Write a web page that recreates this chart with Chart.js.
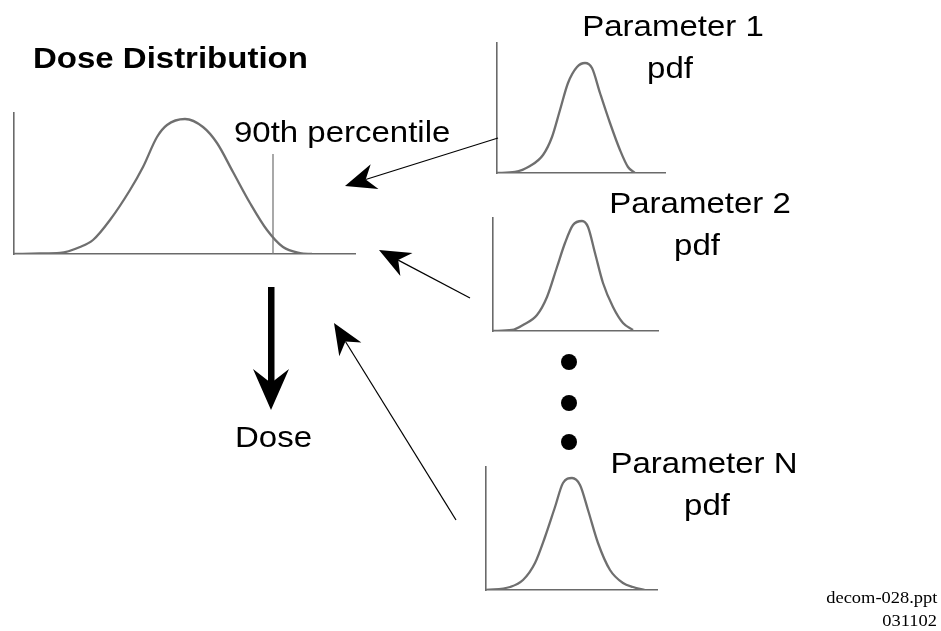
<!DOCTYPE html>
<html>
<head>
<meta charset="utf-8">
<script src="https://cdn.jsdelivr.net/npm/chart.js@4.4.1/dist/chart.umd.min.js"></script>
<style>
  html, body { margin: 0; padding: 0; background: #fff; }
  #stage { position: relative; width: 941px; height: 631px; overflow: hidden; }
  canvas.panel { position: absolute; }
  .t { position: absolute; font-family: "Liberation Sans", Arial, sans-serif; font-size: 29.5px;
       line-height: 1; color: #000; white-space: nowrap; transform-origin: left; transform: scaleX(1.118); }
  .c { transform-origin: center; transform: translateX(-50%) scaleX(1.118); }
  .b { font-weight: bold; }
  .serif { font-family: "Liberation Serif", "Times New Roman", serif; font-size: 16.5px;
           right: 4px; transform-origin: right; }
  svg { position: absolute; left: 0; top: 0; }
</style>
</head>
<body>
<div id="stage">
  <canvas id="dose" class="panel"></canvas>
  <canvas id="p1" class="panel"></canvas>
  <canvas id="p2" class="panel"></canvas>
  <canvas id="pN" class="panel"></canvas>
  <svg id="overlay" width="941" height="631"></svg>

  <div class="t b" style="left:33px; top:43px;">Dose Distribution</div>
  <div class="t" style="left:234px; top:117px;">90th percentile</div>
  <div class="t" style="left:235px; top:422px;">Dose</div>

  <div class="t c" style="left:673px; top:11px;">Parameter 1</div>
  <div class="t c" style="left:670px; top:53px;">pdf</div>
  <div class="t c" style="left:700px; top:188px;">Parameter 2</div>
  <div class="t c" style="left:697px; top:230px;">pdf</div>
  <div class="t c" style="left:704px; top:448px;">Parameter N</div>
  <div class="t c" style="left:707px; top:490px;">pdf</div>

  <div class="t serif" style="top:590px;">decom-028.ppt</div>
  <div class="t serif" style="top:613px;">031102</div>
</div>

<script>
// Dose distribution (x = dose, y = frequency)
const doseX = [0, 26, 46, 66, 79, 96, 116, 129, 143, 153, 171, 189, 203, 219, 236, 253, 269, 286, 298];
const doseY = [0, 0.5, 1, 7, 14, 34, 64, 87, 117, 129, 135, 127, 111, 82, 51, 24, 7, 1, 0];
const percentile90 = 259;
const percentileHeight = 100;

// Parameter pdfs
const p1X = [0, 18, 33, 46, 55, 63, 71, 80, 88, 95, 103, 113, 123, 131, 138];
const p1Y = [0, 1, 7, 18, 36, 63, 90, 106, 110, 105, 80, 50, 23, 6, 0];
const p2X = [0, 19, 30, 44, 54, 64, 72, 80, 89, 95, 102, 110, 120, 130, 140];
const p2Y = [0, 1, 6, 16, 34, 64, 88, 106, 110, 104, 78, 48, 24, 8, 1];
const pNX = [0, 24, 37, 49, 59, 69, 77, 86, 94, 102, 112, 124, 137, 147, 159];
const pNY = [0, 3, 10, 27, 53, 83, 107, 112, 105, 80, 47, 20, 7, 3, 0];

// axis extents of each panel (data units)
const doseRange = [341, 141];
const p1Range = [168, 130];
const p2Range = [165, 113];
const pNRange = [171, 123];

const PAD = 6;
const curveColor = '#6f6f6f';
const axisColor = '#6a6a6a';

function toPoints(xs, ys) {
    return xs.map((x, i) => ({ x: x, y: ys[i] }));
}

function makePanel(id, left, top, range, datasets) {
    const canvas = document.getElementById(id);
    canvas.width = range[0] + PAD * 2;
    canvas.height = range[1] + PAD * 2;
    canvas.style.left = (left - PAD) + 'px';
    canvas.style.top = (top - PAD) + 'px';

    const axis = (max) => ({
        type: 'linear', min: 0, max: max,
        grid: { display: false, drawTicks: false },
        ticks: { display: false },
        border: { display: true, color: axisColor, width: 1.6 }
    });

    return new Chart(canvas, {
        type: 'line',
        data: { datasets: datasets },
        options: {
            responsive: false,
            animation: false,
            layout: { padding: PAD },
            plugins: { legend: { display: false }, tooltip: { enabled: false } },
            elements: { point: { radius: 0 } },
            scales: { x: axis(range[0]), y: axis(range[1]) }
        }
    });
}

function curve(xs, ys) {
    return {
        data: toPoints(xs, ys),
        borderColor: curveColor,
        borderWidth: 2.3,
        cubicInterpolationMode: 'monotone',
        fill: false
    };
}

makePanel('dose', 14, 113, doseRange, [
    curve(doseX, doseY),
    {
        data: [{ x: percentile90, y: 0 }, { x: percentile90, y: percentileHeight }],
        borderColor: '#7a7a7a',
        borderWidth: 1.3
    }
]);
makePanel('p1', 497, 43, p1Range, [curve(p1X, p1Y)]);
makePanel('p2', 493, 218, p2Range, [curve(p2X, p2Y)]);
makePanel('pN', 486, 467, pNRange, [curve(pNX, pNY)]);

// arrows and dots
const svg = document.getElementById('overlay');
const NS = 'http://www.w3.org/2000/svg';

function el(name, attrs) {
    const e = document.createElementNS(NS, name);
    for (const k in attrs) e.setAttribute(k, attrs[k]);
    svg.appendChild(e);
    return e;
}

function thinArrow(x1, y1, x2, y2, len, half) {
    const dx = x2 - x1, dy = y2 - y1;
    const d = Math.hypot(dx, dy);
    const ux = dx / d, uy = dy / d;
    const bx = x2 - ux * len, by = y2 - uy * len;
    const nx = bx + ux * len * 0.3, ny = by + uy * len * 0.3;
    el('line', { x1: x1, y1: y1, x2: nx, y2: ny, stroke: '#000', 'stroke-width': 1.2 });
    const pts = [
        [x2, y2],
        [bx - uy * half, by + ux * half],
        [nx, ny],
        [bx + uy * half, by - ux * half]
    ];
    el('polygon', { points: pts.map(p => p.join(',')).join(' '), fill: '#000' });
}

thinArrow(498, 138, 345, 186, 31, 13);
thinArrow(470, 298, 379, 250, 31, 13);
thinArrow(456, 520, 334, 323, 31, 13);

// thick down arrow to "Dose"
el('rect', { x: 268, y: 287, width: 6.5, height: 96, fill: '#000' });
el('polygon', { points: '271,410 289,369 271,383 253,369', fill: '#000' });

// ellipsis dots
[362, 403, 442].forEach(cy => el('circle', { cx: 569, cy: cy, r: 8, fill: '#000' }));
</script>
</body>
</html>
